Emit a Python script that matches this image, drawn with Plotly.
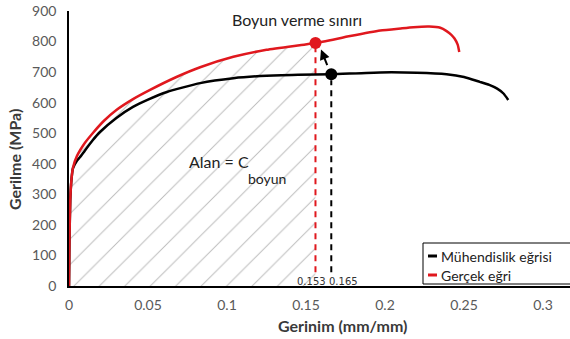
import plotly.graph_objects as go

# Engineering curve (Mühendislik eğrisi)
eng_strain = [0, 0.0003, 0.0008, 0.0015, 0.0025, 0.005, 0.007, 0.01, 0.015, 0.0196, 0.03, 0.0405,
              0.05, 0.062, 0.083, 0.104, 0.125, 0.145, 0.166, 0.197, 0.22, 0.239, 0.25,
              0.26, 0.266, 0.271, 0.275, 0.278]
eng_stress = [0, 150, 280, 345, 385, 410, 422, 443, 477, 504, 550, 586,
              610, 635, 664, 680, 688, 691, 693, 699, 698, 693, 684,
              668, 658, 646, 630, 609]

# True curve (Gerçek eğri)
true_strain = [0, 0.0003, 0.0008, 0.0015, 0.0025, 0.005, 0.01, 0.015, 0.022, 0.03, 0.04, 0.051,
               0.068, 0.083, 0.104, 0.125, 0.146, 0.156, 0.178, 0.197, 0.21, 0.218,
               0.228, 0.235, 0.239, 0.242, 0.244, 0.246, 0.247]
true_stress = [0, 150, 280, 345, 387, 425, 468, 500, 540, 576, 610, 641,
               684, 716, 750, 773, 788, 795, 818, 836, 843, 847,
               849, 845, 834, 822, 810, 790, 766]

necking_strain_true = 0.156
necking_stress_true = 795
necking_strain_eng = 0.166
necking_stress_eng = 693
necking_labels = ["0.153", "0.165"]

x_ticks = [0, 0.05, 0.1, 0.15, 0.2, 0.25, 0.3]
x_tick_text = ["0", "0.05", "0.1", "0.15", "0.2", "0.25", "0.3"]
y_ticks = [0, 100, 200, 300, 400, 500, 600, 700, 800, 900]
legend_names = ["Mühendislik eğrisi", "Gerçek eğri"]
colors = ["black", "#e0181e"]

FONT = "Lato"
W, H = 570, 339
L, R, T, B = 69, 0, 11, 53
pw, ph = W - L - R, H - T - B


def px2paper(px, py):
    return (px - L) / pw, (H - B - py) / ph


fig = go.Figure()

# hatched area under true curve up to necking
hs = [s for s in true_strain if s <= necking_strain_true]
hy = true_stress[:len(hs)]
fig.add_trace(go.Scatter(
    x=hs, y=hy, mode="lines", line=dict(width=0, color="rgba(0,0,0,0)"),
    fill="tozeroy", fillcolor="rgba(0,0,0,0)",
    fillpattern=dict(shape="/", fgcolor="#7a7a7a", bgcolor="white", size=18, solidity=0.055),
    showlegend=False, hoverinfo="skip"))

# dashed verticals
fig.add_trace(go.Scatter(x=[necking_strain_eng, necking_strain_eng], y=[45, necking_stress_eng - 20],
                         mode="lines", line=dict(color=colors[0], width=2, dash="6px,5px"),
                         showlegend=False))
fig.add_trace(go.Scatter(x=[necking_strain_true, necking_strain_true], y=[45, necking_stress_true],
                         mode="lines", line=dict(color=colors[1], width=2, dash="6px,5px"),
                         showlegend=False))

fig.add_trace(go.Scatter(x=eng_strain, y=eng_stress, mode="lines",
                         line=dict(color=colors[0], width=2.5, shape="spline", smoothing=0.5),
                         name=legend_names[0], showlegend=False))
fig.add_trace(go.Scatter(x=true_strain, y=true_stress, mode="lines",
                         line=dict(color=colors[1], width=2.5, shape="spline", smoothing=0.5),
                         name=legend_names[1], showlegend=False))

fig.add_trace(go.Scatter(x=[necking_strain_eng], y=[necking_stress_eng], mode="markers",
                         marker=dict(color=colors[0], size=12), showlegend=False))
fig.add_trace(go.Scatter(x=[necking_strain_true], y=[necking_stress_true], mode="markers",
                         marker=dict(color=colors[1], size=12), showlegend=False))

ann = []
ann.append(dict(x=0.1595, y=774, ax=0.1638, ay=718, xref="x", yref="y", axref="x", ayref="y",
                showarrow=True, arrowhead=2, arrowsize=1, arrowwidth=2, arrowcolor="black", text=""))


def pann(px, py, text, size, color="#222", angle=0, xanchor="center", bold=False, family=FONT):
    x, y = px2paper(px, py)
    return dict(x=x, y=y, xref="paper", yref="paper", text=(f"<b>{text}</b>" if bold else text),
                showarrow=False, xanchor=xanchor, yanchor="middle", textangle=angle,
                font=dict(family=family, size=size, color=color))


ann.append(pann(311, 281, necking_labels[0], 10, color="#333", family="DejaVu Sans"))
ann.append(pann(343, 281, necking_labels[1], 10, color="#333", family="DejaVu Sans"))
ann.append(pann(297, 20, "Boyun verme sınırı", 16))
ann.append(pann(219, 161, "Alan = C", 16))
ann.append(pann(267, 178, "boyun", 14))
ann.append(pann(343, 325, "Gerinim (mm/mm)", 16, color="#3a3a3a", bold=True))
ann.append(pann(15, 160, "Gerilme (MPa)", 16, color="#3a3a3a", angle=-90, bold=True))

# custom legend
ann.append(pann(439, 256, legend_names[0], 14, xanchor="left"))
ann.append(pann(439, 275, legend_names[1], 14, xanchor="left"))

shapes = []
bx0, by0 = px2paper(423, 243)
bx1, by1 = px2paper(580, 284)
shapes.append(dict(type="rect", xref="paper", yref="paper", x0=bx0, y0=by1, x1=bx1, y1=by0,
                   line=dict(color="black", width=1), fillcolor="white", layer="above"))
for i, ly in enumerate([256, 275]):
    lx0, yy = px2paper(428, ly)
    lx1, _ = px2paper(437, ly)
    shapes.append(dict(type="line", xref="paper", yref="paper", x0=lx0, x1=lx1, y0=yy, y1=yy,
                       line=dict(color=colors[i], width=3), layer="above"))

fig.update_layout(
    width=W, height=H, margin=dict(l=L, r=R, t=T, b=B),
    plot_bgcolor="white", paper_bgcolor="white",
    font=dict(family=FONT, size=14, color="#595959"),
    annotations=ann, shapes=shapes,
    showlegend=False,
)
fig.update_xaxes(range=[0, pw / 1580], tickvals=x_ticks, ticktext=x_tick_text,
                 showgrid=False, zeroline=False, showline=True, linecolor="black", linewidth=1.5,
                 ticks="", tickfont=dict(size=14, color="#595959"), automargin=False,
                 ticklabelstandoff=5)
fig.update_yaxes(range=[0, 900], tickvals=y_ticks, showgrid=False, zeroline=False,
                 showline=True, linecolor="black", linewidth=1.5, ticks="",
                 tickfont=dict(size=14, color="#595959"), automargin=False,
                 ticklabelstandoff=8)

fig.write_html("out.html", config={"displayModeBar": False},
               post_script="document.body.style.margin='0px';document.body.style.overflow='hidden';")
